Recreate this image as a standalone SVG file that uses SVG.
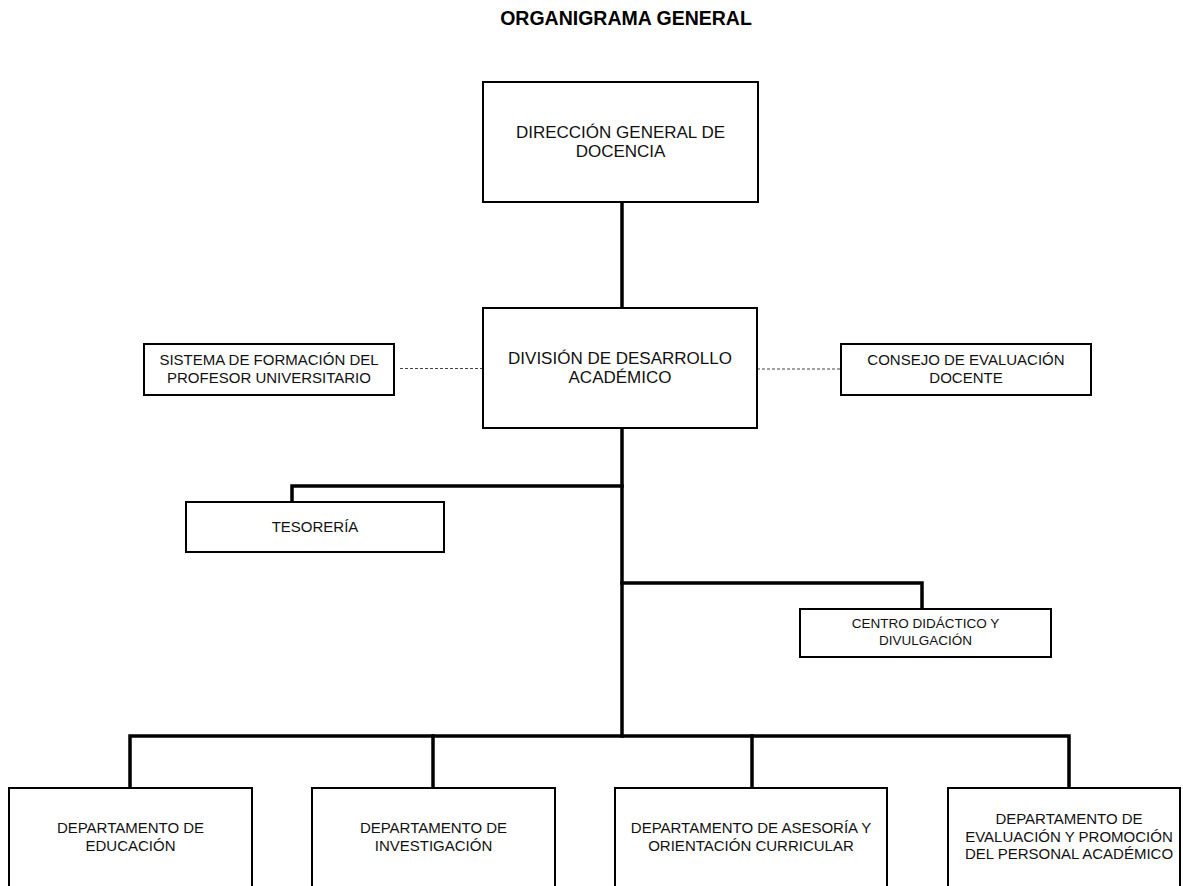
<svg xmlns="http://www.w3.org/2000/svg" width="1183" height="886" viewBox="0 0 1183 886">
  <style>
    .box { fill: #ffffff; stroke: #000000; stroke-width: 2; }
    .lbl { font-family: "Liberation Sans", Arial, sans-serif; fill: #111111; text-anchor: middle; }
    .big { font-size: 17px; }
    .mid { font-size: 15px; }
    .sm { font-size: 13.5px; }
    .title { font-family: "Liberation Sans", Arial, sans-serif; font-weight: bold; font-size: 19.5px; text-anchor: middle; fill: #000000; }
    .solid { fill: none; stroke: #000000; stroke-width: 3.5; stroke-linecap: square; }
    .dash { fill: none; stroke: #444444; stroke-width: 1.2; stroke-dasharray: 3 2; }
  </style>
  <rect width="1183" height="886" fill="#ffffff"/>

  <text class="title" x="626" y="25">ORGANIGRAMA GENERAL</text>

  <!-- connectors -->
  <g id="connectors">
    <path class="solid" d="M622 202 V308"/>
    <path class="solid" d="M622 428 V736"/>
    <path class="solid" d="M622 486 H292 V502"/>
    <path class="solid" d="M622 583 H922 V609"/>
    <path class="solid" d="M130 788 V736 H1069 V788"/>
    <path class="solid" d="M433 736 V788"/>
    <path class="solid" d="M752 736 V788"/>
    <path class="dash" d="M400 368.5 H483"/>
    <path class="dash" d="M757 369 H841"/>
  </g>

  <g id="direccion">
    <rect class="box" x="483" y="82" width="275" height="120"/>
    <text class="lbl big" x="620.5" y="138">DIRECCIÓN GENERAL DE</text>
    <text class="lbl big" x="620.5" y="157">DOCENCIA</text>
  </g>

  <g id="division">
    <rect class="box" x="483" y="308" width="274" height="120"/>
    <text class="lbl big" x="620" y="364">DIVISIÓN DE DESARROLLO</text>
    <text class="lbl big" x="620" y="383">ACADÉMICO</text>
  </g>

  <g id="sistema">
    <rect class="box" x="144" y="344" width="250" height="51"/>
    <text class="lbl mid" x="269" y="365">SISTEMA DE FORMACIÓN DEL</text>
    <text class="lbl mid" x="269" y="383">PROFESOR UNIVERSITARIO</text>
  </g>

  <g id="consejo">
    <rect class="box" x="841" y="344" width="250" height="51"/>
    <text class="lbl mid" x="966" y="365">CONSEJO DE EVALUACIÓN</text>
    <text class="lbl mid" x="966" y="383">DOCENTE</text>
  </g>

  <g id="tesoreria">
    <rect class="box" x="186" y="502" width="258" height="50"/>
    <text class="lbl mid" x="315" y="532">TESORERÍA</text>
  </g>

  <g id="centro">
    <rect class="box" x="800" y="609" width="251" height="48"/>
    <text class="lbl sm" x="925.5" y="628">CENTRO DIDÁCTICO Y</text>
    <text class="lbl sm" x="925.5" y="645">DIVULGACIÓN</text>
  </g>

  <g id="dep-educacion">
    <rect class="box" x="9" y="788" width="243" height="112"/>
    <text class="lbl mid" x="130.5" y="833">DEPARTAMENTO DE</text>
    <text class="lbl mid" x="130.5" y="851">EDUCACIÓN</text>
  </g>

  <g id="dep-investigacion">
    <rect class="box" x="312" y="788" width="243" height="112"/>
    <text class="lbl mid" x="433.5" y="833">DEPARTAMENTO DE</text>
    <text class="lbl mid" x="433.5" y="851">INVESTIGACIÓN</text>
  </g>

  <g id="dep-asesoria">
    <rect class="box" x="615" y="788" width="272" height="112"/>
    <text class="lbl mid" x="751" y="833">DEPARTAMENTO DE ASESORÍA Y</text>
    <text class="lbl mid" x="751" y="851">ORIENTACIÓN CURRICULAR</text>
  </g>

  <g id="dep-evaluacion">
    <rect class="box" x="948" y="788" width="232" height="112"/>
    <text class="lbl mid" x="1069" y="824">DEPARTAMENTO DE</text>
    <text class="lbl mid" x="1069" y="842">EVALUACIÓN Y PROMOCIÓN</text>
    <text class="lbl mid" x="1069" y="859">DEL PERSONAL ACADÉMICO</text>
  </g>
</svg>
